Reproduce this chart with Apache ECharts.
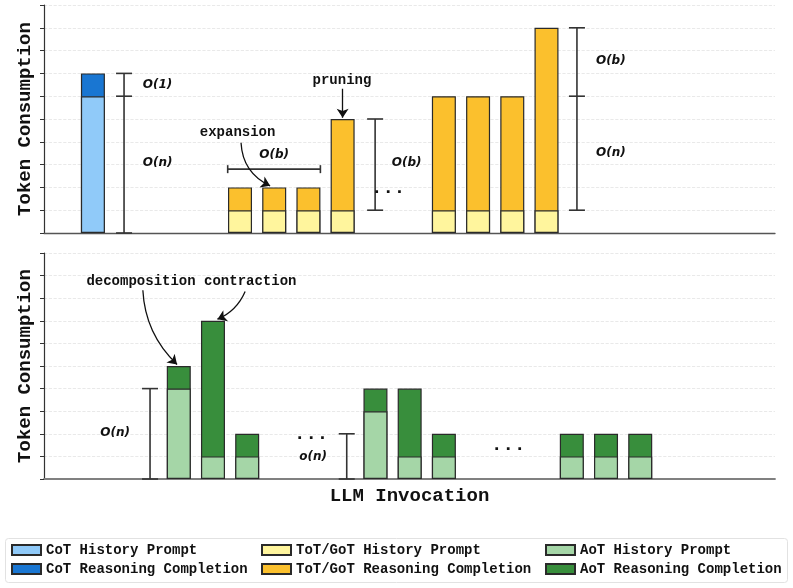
<!DOCTYPE html>
<html>
<head>
<meta charset="utf-8">
<script src="https://cdn.jsdelivr.net/npm/echarts@6/dist/echarts.min.js"></script>
<style>html,body{margin:0;padding:0;background:#fff}#c{width:793px;height:588px}</style>
</head>
<body>
<div id="c"></div>
<script>
// ---- data ----
const cotX = [1.43];
const cotHistory = [6];
const cotReasoning = [1];
const totX = [5.73, 6.73, 7.73, 8.73, 11.69, 12.69, 13.69, 14.69];
const totHistory = [1, 1, 1, 1, 1, 1, 1, 1];
const totReasoning = [1, 1, 1, 4, 5, 5, 5, 8];
const aotX = [3.94, 4.94, 5.94, 9.69, 10.69, 11.69, 15.43, 16.43, 17.43];
const aotHistory = [4, 1, 1, 3, 1, 1, 1, 1, 1];
const aotReasoning = [1, 6, 1, 1, 3, 1, 1, 1, 1];

// vertical brackets: [x, tick values...]
const topBrackets = [[2.34, 0, 6, 7], [9.68, 1, 5], [15.58, 1, 6, 9]];
const bottomBrackets = [[3.10, 0, 4], [8.85, 0, 2]];
// horizontal brackets: [x0, x1, y]
const topHBrackets = [[5.37, 8.08, 2.8]];

// complexity labels: [x, y, text]
const topOrderLabels = [[3.32, 6.5, 'O(1)'], [3.32, 3.08, 'O(n)'], [6.73, 3.43, 'O(b)'], [10.6, 3.08, 'O(b)'], [16.57, 7.55, 'O(b)'], [16.57, 3.52, 'O(n)']];
const bottomOrderLabels = [[2.08, 2.03, 'O(n)'], [7.87, 1.0, 'o(n)']];
const topNotes = [[8.71, 6.68, 'pruning'], [5.66, 4.4, 'expansion']];
const bottomNotes = [[4.31, 8.72, 'decomposition contraction']];
const topDots = [[10.06, 1.95, '...']];
const bottomDots = [[7.81, 1.98, '...'], [13.57, 1.48, '...']];
// arrows: [x0, y0, x1, y1, curveness]
const topArrows = [[8.73, 6.33, 8.73, 5.05, 0], [5.76, 3.96, 6.61, 2.07, -0.3]];
const bottomArrows = [[2.89, 8.35, 3.89, 5.07, -0.2], [5.88, 8.3, 5.07, 7.07, 0.2]];

const names = {
  cotH: 'CoT History Prompt', cotR: 'CoT Reasoning Completion',
  totH: 'ToT/GoT History Prompt', totR: 'ToT/GoT Reasoning Completion',
  aotH: 'AoT History Prompt', aotR: 'AoT Reasoning Completion'
};
const colors = {
  cotH: '#90CAF9', cotR: '#1976D2', totH: '#FFF59D', totR: '#FBC02D', aotH: '#A5D6A7', aotR: '#388E3C'
};
const MONO = 'Liberation Mono';

function pairs(xs, ys) { return xs.map((x, i) => [x, ys[i]]); }
function sum(a, b) { return a.map((v, i) => v + b[i]); }

function barSeries(key, xs, ys, gi) {
  return {
    type: 'bar', name: names[key], xAxisIndex: gi, yAxisIndex: gi,
    data: pairs(xs, ys), barWidth: 24, barGap: '-100%',
    itemStyle: { color: colors[key], borderColor: '#2a2a2a', borderWidth: 1.2 },
    emphasis: { disabled: true }, z: 2
  };
}

function bracketSeries(list, gi) {
  return {
    type: 'custom', xAxisIndex: gi, yAxisIndex: gi, silent: true, z: 4,
    data: list.map(b => [b[0], b[1]]),
    renderItem: function (params, api) {
      const b = list[params.dataIndex];
      const ys = b.slice(1);
      const lo = api.coord([b[0], Math.min.apply(null, ys)]);
      const hi = api.coord([b[0], Math.max.apply(null, ys)]);
      const st = { stroke: '#333', lineWidth: 1.6 };
      const ch = [{ type: 'line', shape: { x1: lo[0], y1: lo[1], x2: hi[0], y2: hi[1] }, style: st }];
      ys.forEach(v => {
        const p = api.coord([b[0], v]);
        ch.push({ type: 'line', shape: { x1: p[0] - 8, y1: p[1], x2: p[0] + 8, y2: p[1] }, style: st });
      });
      return { type: 'group', children: ch };
    }
  };
}

function hBracketSeries(list, gi) {
  return {
    type: 'custom', xAxisIndex: gi, yAxisIndex: gi, silent: true, z: 4,
    data: list.map(b => [b[0], b[2]]),
    renderItem: function (params, api) {
      const b = list[params.dataIndex];
      const a = api.coord([b[0], b[2]]);
      const c = api.coord([b[1], b[2]]);
      const st = { stroke: '#333', lineWidth: 1.6 };
      return { type: 'group', children: [
        { type: 'line', shape: { x1: a[0], y1: a[1], x2: c[0], y2: c[1] }, style: st },
        { type: 'line', shape: { x1: a[0], y1: a[1] - 4, x2: a[0], y2: a[1] + 4 }, style: st },
        { type: 'line', shape: { x1: c[0], y1: c[1] - 4, x2: c[0], y2: c[1] + 4 }, style: st }
      ] };
    }
  };
}

function textSeries(list, gi, font) {
  return {
    type: 'custom', xAxisIndex: gi, yAxisIndex: gi, silent: true, z: 5,
    data: list.map(t => [t[0], t[1]]),
    renderItem: function (params, api) {
      const t = list[params.dataIndex];
      const p = api.coord([t[0], t[1]]);
      return { type: 'text', x: p[0], y: p[1], style: Object.assign({ text: t[2], align: 'center', verticalAlign: 'middle', fill: '#111' }, font) };
    }
  };
}

function arrowSeries(list, gi) {
  return {
    type: 'lines', coordinateSystem: 'cartesian2d', xAxisIndex: gi, yAxisIndex: gi, silent: true, z: 5,
    symbol: ['none', 'arrow'], symbolSize: 9,
    data: list.map(a => ({ coords: [[a[0], a[1]], [a[2], a[3]]], lineStyle: { curveness: a[4] } })),
    lineStyle: { color: '#111', width: 1.3, opacity: 1 }
  };
}

const orderFont = { fontFamily: 'DejaVu Sans', fontWeight: 'bold', fontStyle: 'italic', fontSize: 12 };
const noteFont = { fontFamily: MONO, fontWeight: 'bold', fontSize: 14 };
const dotFont = { fontFamily: MONO, fontWeight: 'bold', fontSize: 19 };

function yAxis(gi) {
  return {
    type: 'value', gridIndex: gi, min: 0, max: 10, interval: 1,
    name: 'Token Consumption', nameLocation: 'middle', nameGap: 9,
    nameTextStyle: { fontFamily: MONO, fontWeight: 'bold', fontSize: 19, color: '#111' },
    axisLine: { show: true, lineStyle: { color: '#333', width: 1.2 } },
    axisTick: { show: true, length: 4, lineStyle: { color: '#333' } },
    axisLabel: { show: false },
    splitLine: { show: true, lineStyle: { color: '#e3e3e3', type: 'dashed', width: 0.8 } }
  };
}
function xAxis(gi, extra) {
  return Object.assign({
    type: 'value', gridIndex: gi, min: 0, max: 21.37,
    axisLine: { show: true, onZero: false, lineStyle: { color: '#555', width: 1.3 } },
    axisTick: { show: false }, axisLabel: { show: false }, splitLine: { show: false }
  }, extra || {});
}

function legend(left, keys) {
  return {
    orient: 'vertical', left: left, top: 543, padding: 0, itemGap: 5,
    itemWidth: 29, itemHeight: 10, icon: 'rect', selectedMode: false,
    data: keys.map(k => names[k]),
    textStyle: { fontFamily: MONO, fontWeight: 'bold', fontSize: 14, color: '#111', lineHeight: 14 }
  };
}

const chart = echarts.init(document.getElementById('c'));
chart.setOption({
  animation: false,
  backgroundColor: '#fff',
  graphic: [{ type: 'rect', left: 5, top: 538, z: -10, shape: { width: 782, height: 44, r: 3 }, style: { fill: '#fff', stroke: '#e2e2e2', lineWidth: 1 } }],
  grid: [
    { left: 44, right: 18, top: 5, height: 228 },
    { left: 44, right: 18, top: 253, height: 226 }
  ],
  xAxis: [
    xAxis(0),
    xAxis(1, { name: 'LLM Invocation', nameLocation: 'middle', nameGap: 8,
      nameTextStyle: { fontFamily: MONO, fontWeight: 'bold', fontSize: 19, color: '#111', verticalAlign: 'top' },
      axisLine: { show: true, onZero: false, lineStyle: { color: '#808080', width: 1.8 } } })
  ],
  yAxis: [yAxis(0), yAxis(1)],
  legend: [legend(11, ['cotH', 'cotR']), legend(261, ['totH', 'totR']), legend(545, ['aotH', 'aotR'])],
  series: [
    barSeries('cotR', cotX, sum(cotHistory, cotReasoning), 0),
    barSeries('cotH', cotX, cotHistory, 0),
    barSeries('totR', totX, sum(totHistory, totReasoning), 0),
    barSeries('totH', totX, totHistory, 0),
    barSeries('aotR', aotX, sum(aotHistory, aotReasoning), 1),
    barSeries('aotH', aotX, aotHistory, 1),
    bracketSeries(topBrackets, 0),
    bracketSeries(bottomBrackets, 1),
    hBracketSeries(topHBrackets, 0),
    textSeries(topOrderLabels, 0, orderFont),
    textSeries(bottomOrderLabels, 1, orderFont),
    textSeries(topNotes, 0, noteFont),
    textSeries(bottomNotes, 1, noteFont),
    textSeries(topDots, 0, dotFont),
    textSeries(bottomDots, 1, dotFont),
    arrowSeries(topArrows, 0),
    arrowSeries(bottomArrows, 1)
  ]
});
</script>
</body>
</html>
